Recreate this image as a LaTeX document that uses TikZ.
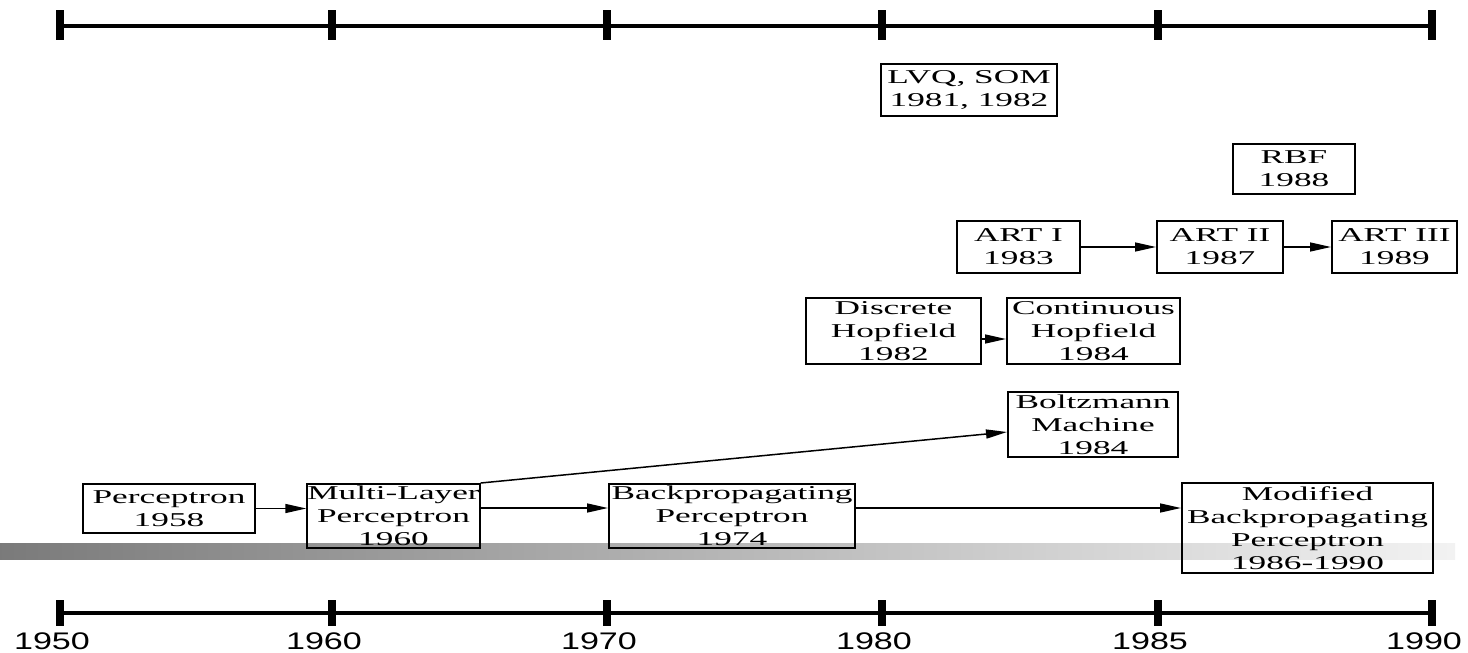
\documentclass[tikz,border=0pt]{standalone}
\usepackage{fontspec}
\setmainfont{Liberation Serif}[FakeStretch=1.8]
\newfontfamily\yearfont{Liberation Sans}[FakeStretch=1.42]
\usetikzlibrary{arrows.meta}

\begin{document}
\begin{tikzpicture}[x=0.5pt, y=-0.5pt]
\tikzstyle{box} = [draw=black, line width=1pt, align=center, inner sep=0pt, font=\fontsize{9.8}{11.5}\selectfont]
\tikzstyle{edge} = [draw=black, line width=0.75pt, -{Triangle[length=10.5pt,width=4.5pt]}]
\tikzstyle{axis} = [line width=2.2pt]
\tikzstyle{tick} = [line width=4pt]

\useasboundingbox (0,0) rectangle (1468,653);

\shade[left color=black!52, right color=black!5] (0,543) rectangle (1455,559);

\foreach \y in {26,613} \draw[axis] (60,\y) -- (1432,\y);
\foreach \x/\yr in {60/1950,332/1960,607/1970,882/1980,1158/1985,1432/1990} {
  \draw[tick] (\x,10) -- (\x,40);
  \draw[tick] (\x,600) -- (\x,626);
  \node[font=\yearfont\fontsize{12}{14}\selectfont] (y\yr) at (\x-8,641) {\yr};
}

\node[box, minimum width=86pt, minimum height=24.5pt] (perc) at (169,508.5) {Perceptron\\1958};
\node[box, minimum width=85.5pt, minimum height=32pt] (mlp) at (393.5,516) {Multi-Layer\\Perceptron\\1960};
\node[box, minimum width=123pt, minimum height=32pt] (bp) at (732,516) {Backpropagating\\Perceptron\\1974};
\node[box, minimum width=125.5pt, minimum height=45pt] (mbp) at (1307.5,528) {Modified\\Backpropagating\\Perceptron\\1986-1990};
\node[box, minimum width=85pt, minimum height=32.5pt] (boltz) at (1093,424.5) {Boltzmann\\Machine\\1984};
\node[box, minimum width=87.5pt, minimum height=33pt] (dhop) at (893.5,331) {Discrete\\Hopfield\\1982};
\node[box, minimum width=86.5pt, minimum height=33pt] (chop) at (1093.5,331) {Continuous\\Hopfield\\1984};
\node[box, minimum width=61.5pt, minimum height=26pt] (art1) at (1018.5,247) {ART I\\1983};
\node[box, minimum width=63pt, minimum height=26pt] (art2) at (1220,247) {ART II\\1987};
\node[box, minimum width=62.5pt, minimum height=26pt] (art3) at (1394.5,247) {ART III\\1989};
\node[box, minimum width=61pt, minimum height=25pt] (rbf) at (1294,169) {RBF\\1988};
\node[box, minimum width=88pt, minimum height=26pt] (lvq) at (969,90) {LVQ, SOM\\1981, 1982};

\draw[edge] (perc.east) -- (perc.east -| mlp.west);
\draw[edge] ([yshift=4pt]mlp.east) -- ([yshift=4pt]mlp.east -| bp.west);
\draw[edge] ([yshift=4pt]bp.east) -- ([yshift=4pt]bp.east -| mbp.west);
\draw[edge] (mlp.north east) -- ([yshift=-3.75pt]boltz.west);
\draw[edge] ([yshift=-4pt]dhop.east) -- ([yshift=-4pt]chop.west);
\draw[edge] (art1) -- (art2);
\draw[edge] (art2) -- (art3);
\end{tikzpicture}
\end{document}
